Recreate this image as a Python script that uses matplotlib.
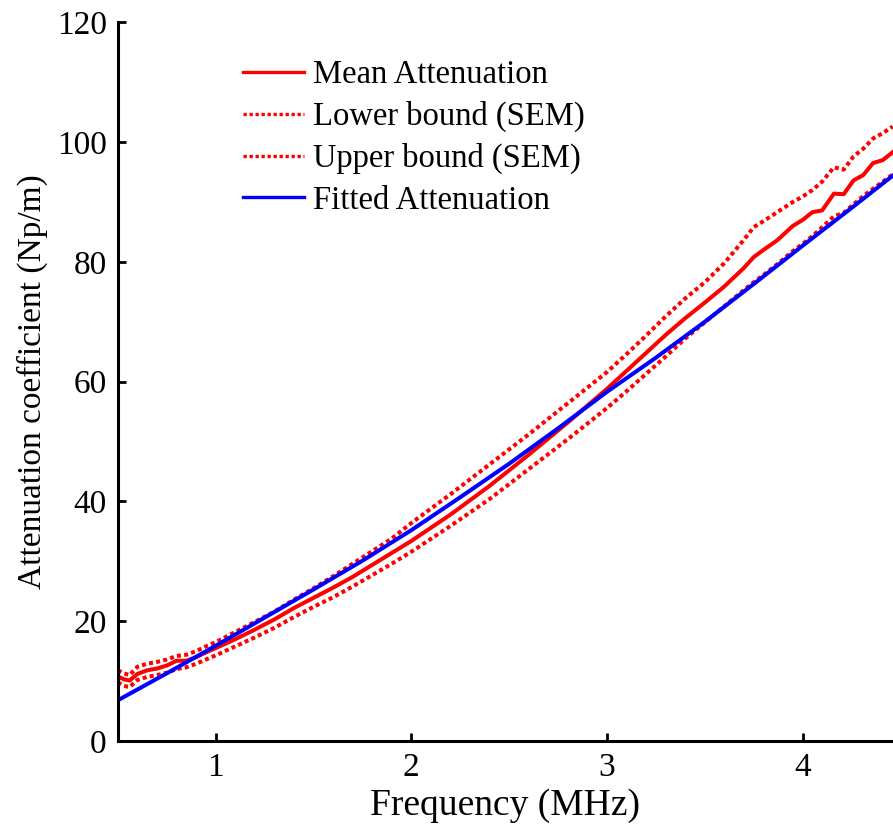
import numpy as np
import matplotlib
matplotlib.use('Agg')
import matplotlib.pyplot as plt

# frequency grid (MHz) for the measured curves
freq = [0.50, 0.53, 0.56, 0.60, 0.65, 0.70, 0.75, 0.80, 0.85, 0.90, 0.95, 1.00,
        1.10, 1.20, 1.30, 1.40, 1.50, 1.60, 1.70, 1.80, 1.90, 2.00, 2.20, 2.40,
        2.60, 2.80, 3.00, 3.10, 3.20, 3.30, 3.40, 3.50, 3.60, 3.70, 3.75, 3.80,
        3.87, 3.95, 4.00, 4.05, 4.10, 4.16, 4.21, 4.26, 4.31, 4.36, 4.41, 4.46]

mean_att = [10.8, 10.3, 10.1, 11.2, 11.8, 12.1, 12.6, 13.4, 13.4, 14.0, 14.8, 15.5,
            17.0, 18.6, 20.3, 22.2, 23.9, 25.6, 27.4, 29.4, 31.4, 33.4, 37.8, 42.6,
            47.8, 53.2, 58.8, 61.8, 64.8, 67.8, 70.6, 73.2, 75.9, 79.0, 80.8, 82.0,
            83.6, 86.0, 87.0, 88.3, 88.6, 91.4, 91.3, 93.6, 94.5, 96.5, 97.0, 98.3]

upper_att = [11.8, 11.3, 11.0, 12.4, 12.9, 13.2, 13.6, 14.2, 14.4, 15.0, 15.8, 16.5,
             18.2, 19.9, 21.6, 23.6, 25.5, 27.5, 29.6, 31.7, 33.8, 36.4, 41.2, 46.2,
             51.2, 56.4, 61.6, 64.6, 67.7, 70.9, 73.9, 76.6, 79.8, 83.7, 85.8, 86.8,
             88.3, 90.0, 90.9, 92.0, 93.4, 95.8, 95.4, 97.6, 98.9, 100.6, 101.5, 102.6]

lower_att = [9.8, 9.2, 9.0, 10.2, 10.7, 11.0, 11.4, 12.0, 12.3, 12.9, 13.6, 14.3,
             15.8, 17.3, 18.9, 20.7, 22.4, 24.0, 25.8, 27.7, 29.6, 31.6, 35.9, 40.4,
             45.4, 50.4, 55.6, 58.4, 61.3, 64.2, 67.2, 69.9, 72.6, 75.3, 76.6, 77.8,
             79.6, 81.8, 83.0, 84.3, 85.8, 87.6, 88.2, 89.6, 91.0, 92.2, 93.4, 94.6]

# fitted curve
fit_freq = [0.50, 0.75, 1.00, 1.25, 1.50, 1.75, 2.00, 2.25, 2.50, 2.75, 3.00,
            3.25, 3.50, 3.75, 4.00, 4.25, 4.50]
fit_att = [6.8, 11.3, 15.9, 20.6, 25.3, 30.1, 35.2, 40.7, 46.3, 52.2, 58.3,
           64.0, 70.0, 76.3, 82.7, 89.0, 95.4]

plt.rcParams['font.family'] = ['Liberation Serif', 'DejaVu Serif']

fig = plt.figure(figsize=(8.93, 8.27), dpi=100)
ax = fig.add_axes([0.132, 0.104, 0.868, 0.869])

dots = (0, (1, 0.8))
ax.plot(freq, mean_att, color='#ff0000', lw=2.9, label='Mean Attenuation')
ax.plot(freq, lower_att, color='#ff0000', lw=2.9, linestyle=dots, label='Lower bound (SEM)')
ax.plot(freq, upper_att, color='#ff0000', lw=2.9, linestyle=dots, label='Upper bound (SEM)')
ax.plot(fit_freq, fit_att, color='#0000ff', lw=2.9, label='Fitted Attenuation')

ax.set_xlim(0.5, 4.462)
ax.set_ylim(0, 120)
ax.set_xticks([1, 2, 3, 4])
ax.set_yticks(np.arange(0, 121, 20))

ax.spines['top'].set_visible(False)
ax.spines['right'].set_visible(False)
ax.spines['left'].set_linewidth(2.2)
ax.spines['bottom'].set_linewidth(2.2)
ax.tick_params(direction='in', length=6, width=2, labelsize=24, pad=8)

ax.set_xlabel('Frequency (MHz)', fontsize=27, labelpad=4)
ax.set_ylabel('Attenuation coefficient (Np/m)', fontsize=24, labelpad=6)

leg = ax.legend(loc='upper left', bbox_to_anchor=(0.145, 0.966), frameon=False,
                fontsize=23.5, handlelength=1.85, handletextpad=0.3, labelspacing=0.33,
                borderaxespad=0)
for h in leg.get_lines():
    h.set_linewidth(2.4)

fig.savefig('out.png', dpi=100)
